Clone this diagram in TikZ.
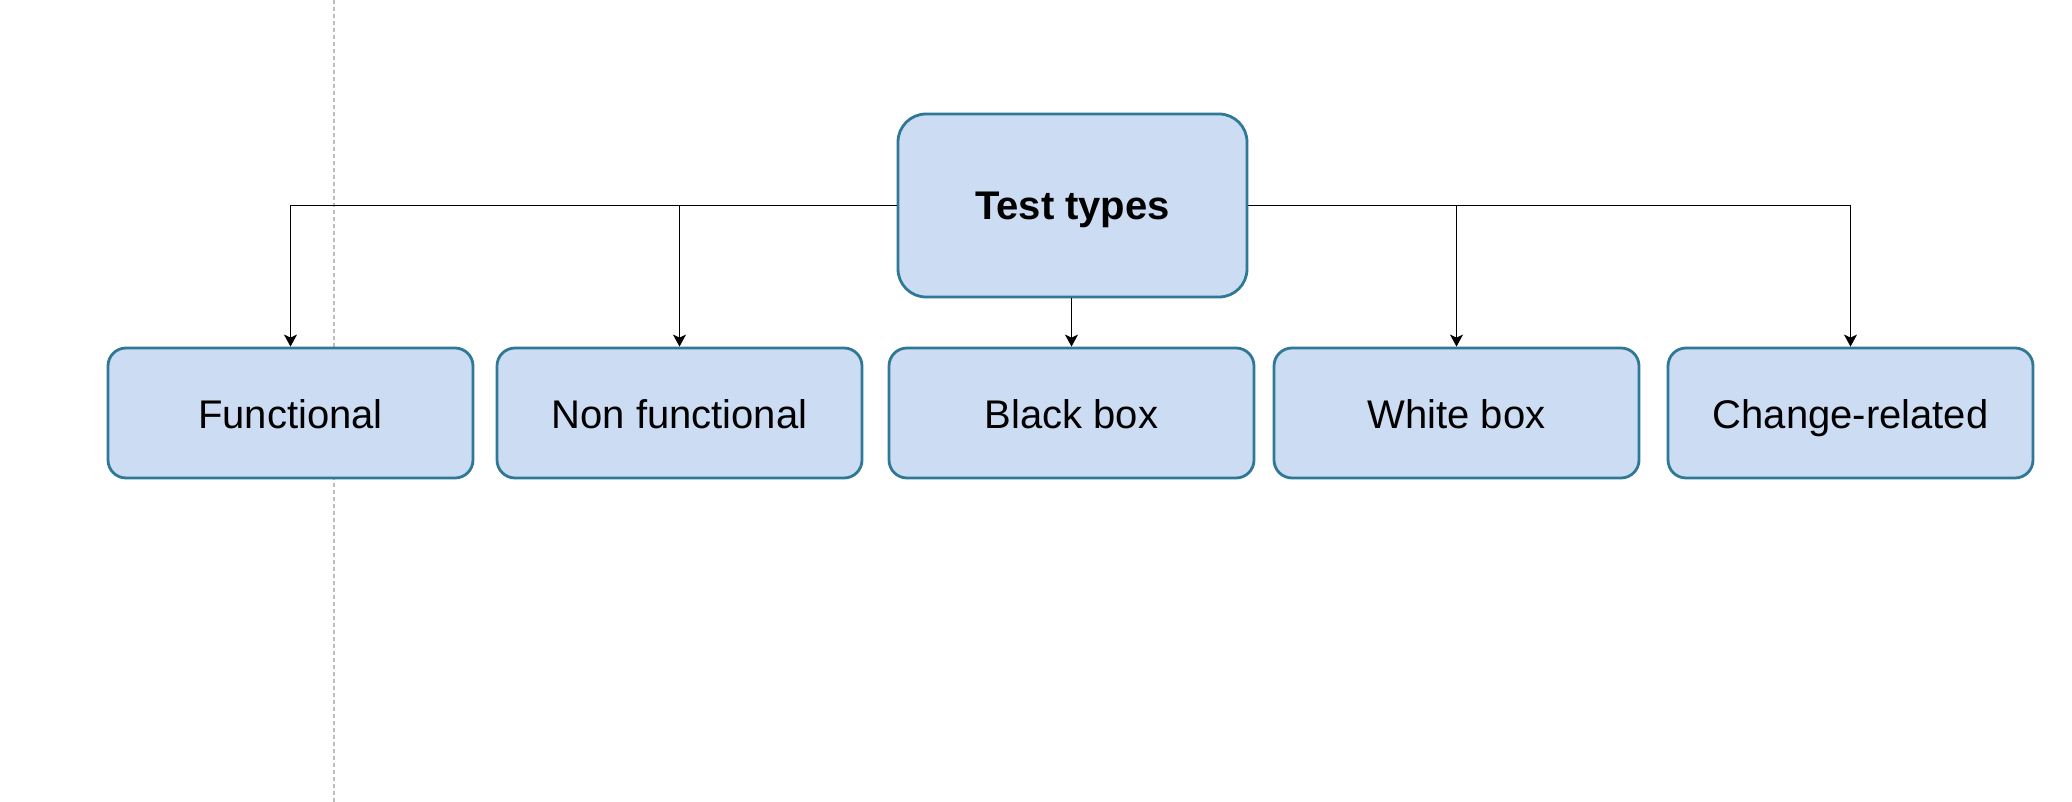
\documentclass[tikz,border=0pt]{standalone}
\usepackage{fontspec}
\setmainfont{Liberation Sans}
\usetikzlibrary{arrows.meta}
\definecolor{ink}{HTML}{000000}
\definecolor{boxFill}{HTML}{CCDCF2}
\definecolor{boxLine}{HTML}{2F7896}
\definecolor{guide}{HTML}{BDBDBD}
\tikzset{
    >={Stealth[length=6pt,width=6.5pt,inset=1.5pt]},
    root box/.style={draw=boxLine, fill=boxFill, line width=1.4pt,
                     rounded corners=14pt, minimum width=174.5pt,
                     minimum height=91.5pt, inner sep=0pt,
                     text height=14.5pt, text depth=0pt,
                     font=\fontsize{20}{24}\selectfont\bfseries, text=ink},
    type box/.style={draw=boxLine, fill=boxFill, line width=1.4pt,
                     rounded corners=9pt, minimum width=182.5pt,
                     minimum height=65pt, inner sep=0pt,
                     text height=15pt, text depth=0pt,
                     font=\fontsize{20}{24}\selectfont, text=ink},
    branch/.style={ink, line width=0.75pt, ->},
    guide line/.style={guide, line width=0.6pt, dash pattern=on 2pt off 1.5pt},
}
\begin{document}
\begin{tikzpicture}[x=0.5pt, y=-0.5pt]
\useasboundingbox (0,0) rectangle (2072,802);

% Page guide behind the diagram.
\draw[guide line] (334,0) -- (334,802);

% Root and the five kinds of test.
\node[root box] (root) at (1072.5,205.5) {Test types};
\node[type box] (functional) at (290.5,413) {Functional};
\node[type box] (nonfunc) at (679.5,413) {Non functional};
\node[type box] (blackbox) at (1071.5,413) {Black box};
\node[type box] (whitebox) at (1456.5,413) {White box};
\node[type box] (change) at (1850.5,413) {Change-related};

% Connectors from the root down to each kind.
\draw[branch] (root.west) -| (functional.north);
\draw[branch] (root.west) -| (nonfunc.north);
\draw[branch] (root.south -| blackbox.north) -- (blackbox.north);
\draw[branch] (root.east) -| (whitebox.north);
\draw[branch] (root.east) -| (change.north);

\end{tikzpicture}
\end{document}
